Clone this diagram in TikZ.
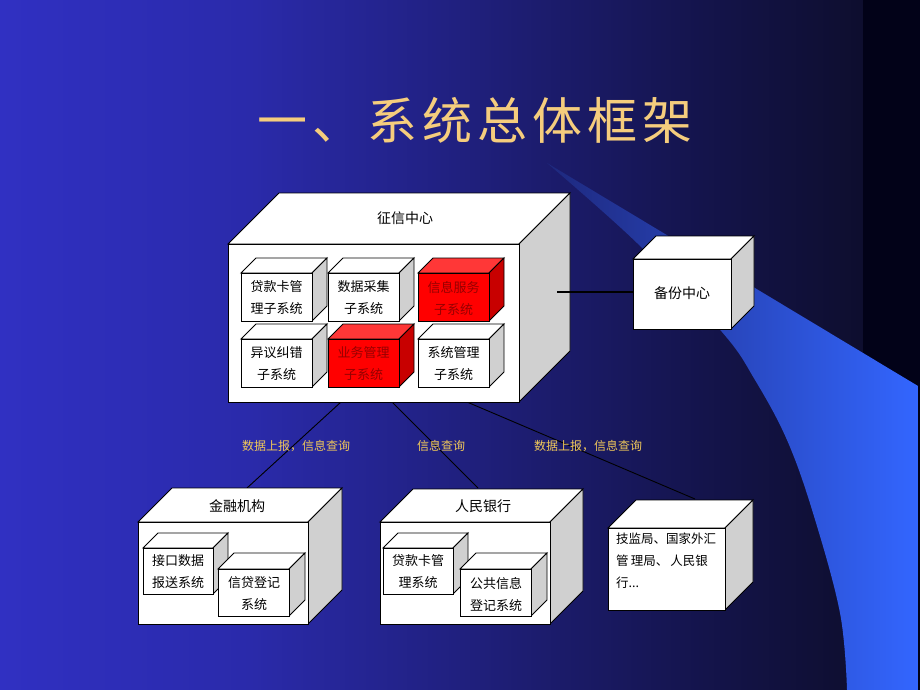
\documentclass[tikz,border=0pt]{standalone}
\usepackage{fontspec}
\newfontfamily\cjk{Noto Sans CJK SC}
\definecolor{gold}{RGB}{245,205,125}
\definecolor{lab}{RGB}{240,200,90}
\definecolor{sidegray}{RGB}{208,208,208}
\definecolor{redfront}{RGB}{255,0,0}
\definecolor{redtop}{RGB}{255,55,55}
\definecolor{redside}{RGB}{200,0,0}
\definecolor{redtext}{RGB}{150,0,0}
\definecolor{bgA}{RGB}{48,48,194}
\definecolor{bgB}{RGB}{42,42,170}
\definecolor{bgC}{RGB}{30,30,118}
\definecolor{bgD}{RGB}{20,20,76}
\definecolor{bgE}{RGB}{14,14,46}
\definecolor{bgF}{RGB}{2,2,24}
\definecolor{swA}{RGB}{30,40,125}
\definecolor{swB}{RGB}{46,86,218}
\definecolor{swC}{RGB}{51,102,255}
% #1 name, #2 x1, #3 y1, #4 x2, #5 y2, #6 depth, #7 front, #8 top, #9 side
\newcommand{\cubebox}[9]{%
  \filldraw[fill=#8, boxline] (#2,#3) -- (#2+#6,#3-#6) -- (#4+#6,#3-#6) -- (#4,#3) -- cycle;
  \filldraw[fill=#9, boxline] (#4,#3) -- (#4+#6,#3-#6) -- (#4+#6,#5-#6) -- (#4,#5) -- cycle;
  \node[boxline, fill=#7, anchor=north west, inner sep=0pt, outer sep=0pt,
        minimum width={(#4-#2)*1pt}, minimum height={(#5-#3)*1pt}] (#1) at (#2,#3) {};
}
\newcommand{\mytitle}{一\hspace{5pt}、\hspace{5pt}系\hspace{5pt}统\hspace{5pt}总\hspace{5pt}体\hspace{5pt}框\hspace{5pt}架}
\begin{document}
\begin{tikzpicture}[x=1pt,y=-1pt,
  boxline/.style={draw=black,line width=0.9pt,line join=miter},
  intext/.style={font=\cjk\fontsize{13}{22}\selectfont,align=center,inner sep=0pt},
  toptext/.style={font=\cjk\fontsize{14}{16}\selectfont,inner sep=0pt},
  flowlab/.style={font=\cjk\fontsize{12}{14}\selectfont,text=lab,inner sep=0pt},
  titlefont/.style={font=\cjk\fontsize{50}{50}\selectfont,inner sep=0pt},
  link/.style={draw=black,line width=0.9pt}]
\useasboundingbox (0,0) rectangle (920,690);
% background
\shade[left color=bgA,right color=bgB] (0,0) rectangle (251,690);
\shade[left color=bgB,right color=bgC] (250,0) rectangle (501,690);
\shade[left color=bgC,right color=bgD] (500,0) rectangle (701,690);
\shade[left color=bgD,right color=bgE] (700,0) rectangle (864,690);
\fill[bgF] (863,0) rectangle (920,690);
% swoosh
\shade[left color=swA,middle color=swB,right color=swC]
  (547,163) -- (918,386) -- (918,690) -- (847,690)
  -- plot[smooth,tension=0.6] coordinates {(847,690) (840,613) (813,513) (787,440) (755,380) (722,332) (637,243) (547,163)} -- cycle;
% title
\node[titlefont,text=gold] (title) at (475,120) {\mytitle};
% connectors to lower boxes
\coordinate (l1a) at (341,402);
\coordinate (l1b) at (247,488);
\coordinate (l2a) at (392,402);
\coordinate (l2b) at (478,488);
\coordinate (l3a) at (467,402);
\coordinate (l3b) at (695,499);
\draw[link] (l1a) -- (l1b);
\draw[link] (l2a) -- (l2b);
\draw[link] (l3a) -- (l3b);
% main box
\cubebox{main}{228}{244}{519}{402}{51}{white}{white}{sidegray}
\node[toptext] (mainlab) at (405,218) {征信中心};
\cubebox{s1}{241}{273}{312}{321}{15}{white}{white}{sidegray}
\cubebox{s2}{328}{273}{399}{321}{15}{white}{white}{sidegray}
\cubebox{s3}{418}{273}{489}{321}{15}{redfront}{redtop}{redside}
\cubebox{s4}{241}{339}{312}{387}{15}{white}{white}{sidegray}
\cubebox{s5}{328}{339}{399}{387}{15}{redfront}{redtop}{redside}
\cubebox{s6}{418}{339}{489}{387}{15}{white}{white}{sidegray}
\node[intext] (t1) at (276.5,298) {贷款卡管\\理子系统};
\node[intext] (t2) at (363.5,298) {数据采集\\子系统};
\node[intext,text=redtext] (t3) at (453.5,298) {信息服务\\子系统};
\node[intext] (t4) at (276.5,364) {异议纠错\\子系统};
\node[intext,text=redtext] (t5) at (363.5,364) {业务管理\\子系统};
\node[intext] (t6) at (453.5,364) {系统管理\\子系统};
% backup center
\coordinate (bkA) at (557,292);
\cubebox{bak}{633}{259}{731}{329}{23}{white}{white}{sidegray}
\draw[link,line width=1.8pt] (bkA) -- (bkA -| bak.west);
\node[toptext] (baklab) at (682,293) {备份中心};
% flow labels
\node[flowlab] (f1) at (296,446) {数据上报，信息查询};
\node[flowlab] (f2) at (441,446) {信息查询};
\node[flowlab] (f3) at (588,446) {数据上报，信息查询};
% financial institutions
\cubebox{fin}{138}{522}{308}{624}{34}{white}{white}{sidegray}
\node[toptext] (finlab) at (237,506) {金融机构};
\cubebox{fa}{143}{548}{213}{594}{15}{white}{white}{sidegray}
\cubebox{fb}{218}{569}{289}{616}{16}{white}{white}{sidegray}
\node[intext] (fat) at (178,572) {接口数据\\报送系统};
\node[intext] (fbt) at (254,594) {信贷登记\\系统};
% PBC
\cubebox{pbc}{380}{522}{550}{624}{33}{white}{white}{sidegray}
\node[toptext] (pbclab) at (483,506) {人民银行};
\cubebox{pa}{383}{548}{453}{594}{15}{white}{white}{sidegray}
\cubebox{pb}{460}{569}{531}{616}{16}{white}{white}{sidegray}
\node[intext] (pat) at (418,572) {贷款卡管\\理系统};
\node[intext] (pbt) at (496,594) {公共信息\\登记系统};
% others
\cubebox{oth}{608}{528}{725}{610}{28}{white}{white}{sidegray}
\node[font=\cjk\fontsize{12.5}{22}\selectfont,align=left,anchor=north west,inner sep=0pt] (othtxt) at (616,533) {技监局、国家外汇\\管\,理局、\,人民银\\行...};
\end{tikzpicture}
\end{document}
